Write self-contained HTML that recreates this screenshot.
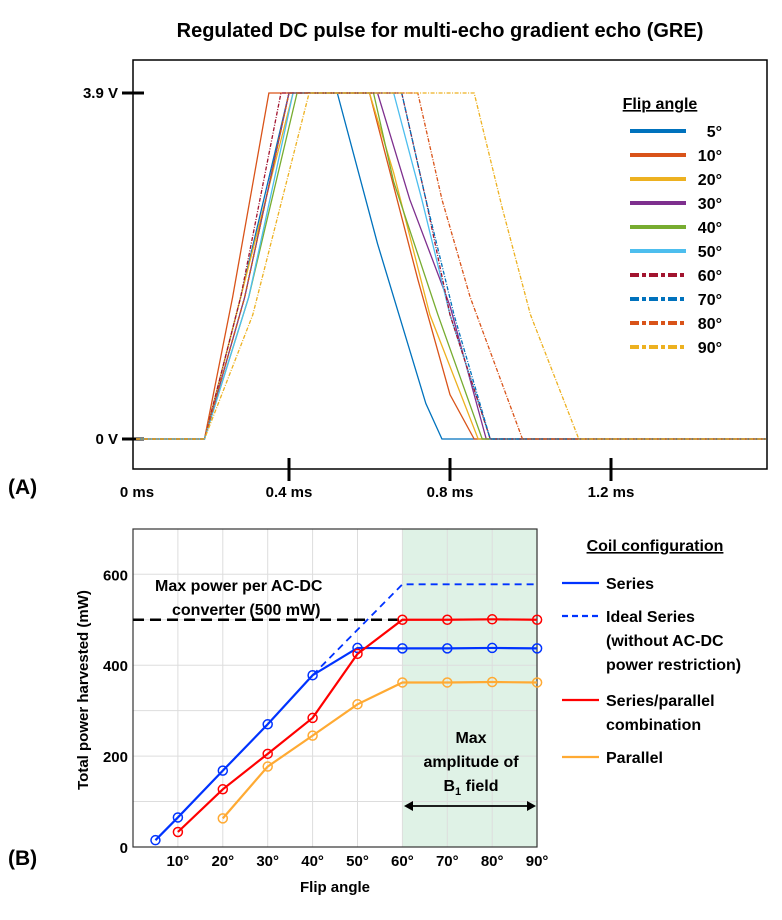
<!DOCTYPE html>
<html><head><meta charset="utf-8"><style>
body{margin:0;background:#fff;}
svg text{font-family:"Liberation Sans",sans-serif;font-weight:bold;fill:#000;}
</style></head><body>
<svg width="782" height="915" viewBox="0 0 782 915" xmlns="http://www.w3.org/2000/svg">
<text x="440" y="37" font-size="20" text-anchor="middle">Regulated DC pulse for multi-echo gradient echo (GRE)</text>
<g id="chartA"></g>
<g id="chartB"></g>
</svg>
<script>
// ---- Chart A data ----
const aLabels=["5°","10°","20°","30°","40°","50°","60°","70°","80°","90°"];
const aColors=["#0072BD","#D95319","#EDB120","#7E2F8E","#77AC30","#4DBEEE","#A2142F","#0072BD","#D95319","#EDB120"];
const aDashed=[false,false,false,false,false,false,true,true,true,true];
// each series: time (ms) vertices and voltage (V)
const aTimes=[
 [0.02,0.17,0.19,0.28,0.40,0.52,0.62,0.74,0.78,1.585],
 [0.02,0.17,0.19,0.26,0.35,0.60,0.72,0.80,0.86,1.585],
 [0.02,0.17,0.19,0.28,0.41,0.60,0.66,0.75,0.87,1.585],
 [0.02,0.17,0.19,0.29,0.40,0.62,0.70,0.80,0.89,1.585],
 [0.02,0.17,0.19,0.30,0.42,0.61,0.66,0.77,0.88,1.585],
 [0.02,0.17,0.19,0.30,0.41,0.66,0.73,0.80,0.90,1.585],
 [0.02,0.17,0.19,0.28,0.38,0.68,0.74,0.80,0.90,1.585],
 [0.02,0.17,0.19,0.29,0.40,0.68,0.74,0.81,0.90,1.585],
 [0.02,0.17,0.19,0.29,0.40,0.72,0.78,0.85,0.98,1.585],
 [0.02,0.17,0.19,0.31,0.45,0.86,0.93,1.00,1.12,1.585]
];
const aVolts=[
 [0,0,0,1.6,3.9,3.9,2.2,0.4,0,0],
 [0,0,0,1.6,3.9,3.9,1.8,0.5,0,0],
 [0,0,0,1.6,3.9,3.9,3.0,1.4,0,0],
 [0,0,0,1.6,3.9,3.9,2.7,1.5,0,0],
 [0,0,0,1.6,3.9,3.9,2.9,1.4,0,0],
 [0,0,0,1.6,3.9,3.9,2.7,1.4,0,0],
 [0,0,0,1.6,3.9,3.9,2.7,1.4,0,0],
 [0,0,0,1.6,3.9,3.9,2.7,1.4,0,0],
 [0,0,0,1.6,3.9,3.9,2.7,1.6,0,0],
 [0,0,0,1.4,3.9,3.9,2.6,1.4,0,0]
];
const aTicks=[0,0.4,0.8,1.2];
const aTickLabels=["0 ms","0.4 ms","0.8 ms","1.2 ms"];

// ---- Chart B data ----
const bCats=[5,10,20,30,40,50,60,70,80,90];
const seriesVals=[15,65,168,270,378,438,437,437,438,437];
const idealCats=[40,60,90];
const idealVals=[378,578,578];
const spCats=[10,20,30,40,50,60,70,80,90];
const spVals=[33,127,205,284,425,500,500,501,500];
const parCats=[20,30,40,50,60,70,80,90];
const parVals=[63,177,245,314,362,362,363,362];
const bYTicks=[0,200,400,600];
const bXTicks=[10,20,30,40,50,60,70,80,90];

const NS="http://www.w3.org/2000/svg";
function mk(parent,tag,attrs,text){const e=document.createElementNS(NS,tag);for(const k in attrs)e.setAttribute(k,attrs[k]);if(text!==undefined)e.textContent=text;parent.appendChild(e);return e;}

// ===== Chart A =====
const A=document.getElementById('chartA');
const ax=t=>128+t*402.5, ay=v=>439-v*(346/3.9);
let e;
e=mk(A,'rect',{x:133,y:60,width:634,height:409,fill:'none',stroke:'#000','stroke-width':1.5});


aTicks.forEach((t,i)=>{
 if(i>0){e=mk(A,'line',{x1:ax(t),x2:ax(t),y1:458,y2:481,stroke:'#000','stroke-width':3});
 
 }
 e=mk(A,'text',{x:i==0?137:ax(t),y:497,'font-size':15,'text-anchor':'middle'},aTickLabels[i]);
 
 
});
[[3.9,"3.9 V"],[0,"0 V"]].forEach(p=>{
 e=mk(A,'line',{x1:122,x2:144,y1:ay(p[0]),y2:ay(p[0]),stroke:'#000','stroke-width':3});
 
 
 e=mk(A,'text',{x:118,y:ay(p[0])+5,'font-size':15,'text-anchor':'end'},p[1]);
 
 
});
aLabels.forEach((lab,i)=>{
 const pts=aTimes[i].map((t,j)=>ax(t)+','+ay(aVolts[i][j])).join(' ');
 e=mk(A,'polyline',{points:pts,fill:'none',stroke:aColors[i],'stroke-width':1.3,'stroke-dasharray':aDashed[i]?'4,1.5,1,1.5':'none'});
 
 
 const ly=131+i*24;
 e=mk(A,'line',{x1:630,x2:686,y1:ly,y2:ly,stroke:aColors[i],'stroke-width':4,'stroke-dasharray':aDashed[i]?'9,3,4,3':'none'});
 
 
 e=mk(A,'text',{x:722,y:ly+6,'font-size':16,'text-anchor':'end'},lab);
 
 
});
e=mk(A,'text',{x:660,y:109,'font-size':16,'text-anchor':'middle','text-decoration':'underline'},'Flip angle');


e=mk(A,'text',{x:8,y:494,'font-size':21},'(A)');



// ===== Chart B =====
const B=document.getElementById('chartB');
const bx=a=>133+a*4.49, by=v=>847-v*0.4545;
e=mk(B,'rect',{x:bx(60),y:529,width:bx(90)-bx(60),height:318,fill:'#dff2e6'});


bXTicks.forEach(a=>{e=mk(B,'line',{x1:bx(a),x2:bx(a),y1:529,y2:847,stroke:'#ddd','stroke-width':1});
 
 
 e=mk(B,'text',{x:bx(a),y:866,'font-size':15,'text-anchor':'middle'},a+'°');
 
 });
[100,200,300,400,500,600].forEach(v=>{e=mk(B,'line',{x1:133,x2:537,y1:by(v),y2:by(v),stroke:'#ddd','stroke-width':1});
 
 });
bYTicks.forEach(v=>{e=mk(B,'text',{x:128,y:by(v)+6,'font-size':15,'text-anchor':'end'},v);
 
 });
e=mk(B,'rect',{x:133,y:529,width:404,height:318,fill:'none',stroke:'#333','stroke-width':1.2});


e=mk(B,'line',{x1:133,x2:bx(60),y1:by(500),y2:by(500),stroke:'#000','stroke-width':2.5,'stroke-dasharray':'11,6'});


e=mk(B,'polyline',{points:idealCats.map((c,i)=>bx(c)+','+by(idealVals[i])).join(' '),fill:'none',stroke:'#0033ff','stroke-width':1.8,'stroke-dasharray':'7,5'});


function series(cats,vals,color,name){
 e=mk(B,'polyline',{points:cats.map((c,i)=>bx(c)+','+by(vals[i])).join(' '),fill:'none',stroke:color,'stroke-width':2.2});
 
 
 cats.forEach((c,i)=>{e=mk(B,'circle',{cx:bx(c),cy:by(vals[i]),r:4.5,fill:'none',stroke:color,'stroke-width':1.5});
  
  });
}
series(parCats,parVals,'#ffaa33','parallel');
series(bCats,seriesVals,'#0033ff','series');
series(spCats,spVals,'#ff0000','series-parallel');
[["Max power per AC-DC",155,591],["converter (500 mW)",172,615]].forEach(t=>{e=mk(B,'text',{x:t[1],y:t[2],'font-size':16},t[0]);
 
 });
[["Max",743],["amplitude of",767]].forEach(t=>{e=mk(B,'text',{x:471,y:t[1],'font-size':16,'text-anchor':'middle'},t[0]);
 
 });
e=mk(B,'text',{x:471,y:791,'font-size':16,'text-anchor':'middle'});


e.innerHTML='B<tspan font-size="11" dy="4">1</tspan><tspan dy="-4"> field</tspan>';
e=mk(B,'line',{x1:410,x2:530,y1:806,y2:806,stroke:'#000','stroke-width':1.8});


e=mk(B,'path',{d:'M404 806 L413 801 L413 811 Z M536 806 L527 801 L527 811 Z',fill:'#000'});


e=mk(B,'text',{x:0,y:0,'font-size':15,'text-anchor':'middle',transform:'translate(88,690) rotate(-90)'},'Total power harvested (mW)');


e=mk(B,'text',{x:335,y:892,'font-size':15,'text-anchor':'middle'},'Flip angle');


e=mk(B,'text',{x:8,y:865,'font-size':21},'(B)');


e=mk(B,'text',{x:655,y:551,'font-size':16,'text-anchor':'middle','text-decoration':'underline'},'Coil configuration');


const legB=[[583,'#0033ff',false,["Series"]],[616,'#0033ff',true,["Ideal Series","(without AC-DC","power restriction)"]],[700,'#ff0000',false,["Series/parallel","combination"]],[757,'#ffaa33',false,["Parallel"]]];
legB.forEach(l=>{
 e=mk(B,'line',{x1:562,x2:599,y1:l[0],y2:l[0],stroke:l[1],'stroke-width':2.2,'stroke-dasharray':l[2]?'6,4':'none'});
 
 
 l[3].forEach((t,j)=>{e=mk(B,'text',{x:606,y:l[0]+6+j*24,'font-size':16},t);
  
  });
});
</script>
</body></html>
